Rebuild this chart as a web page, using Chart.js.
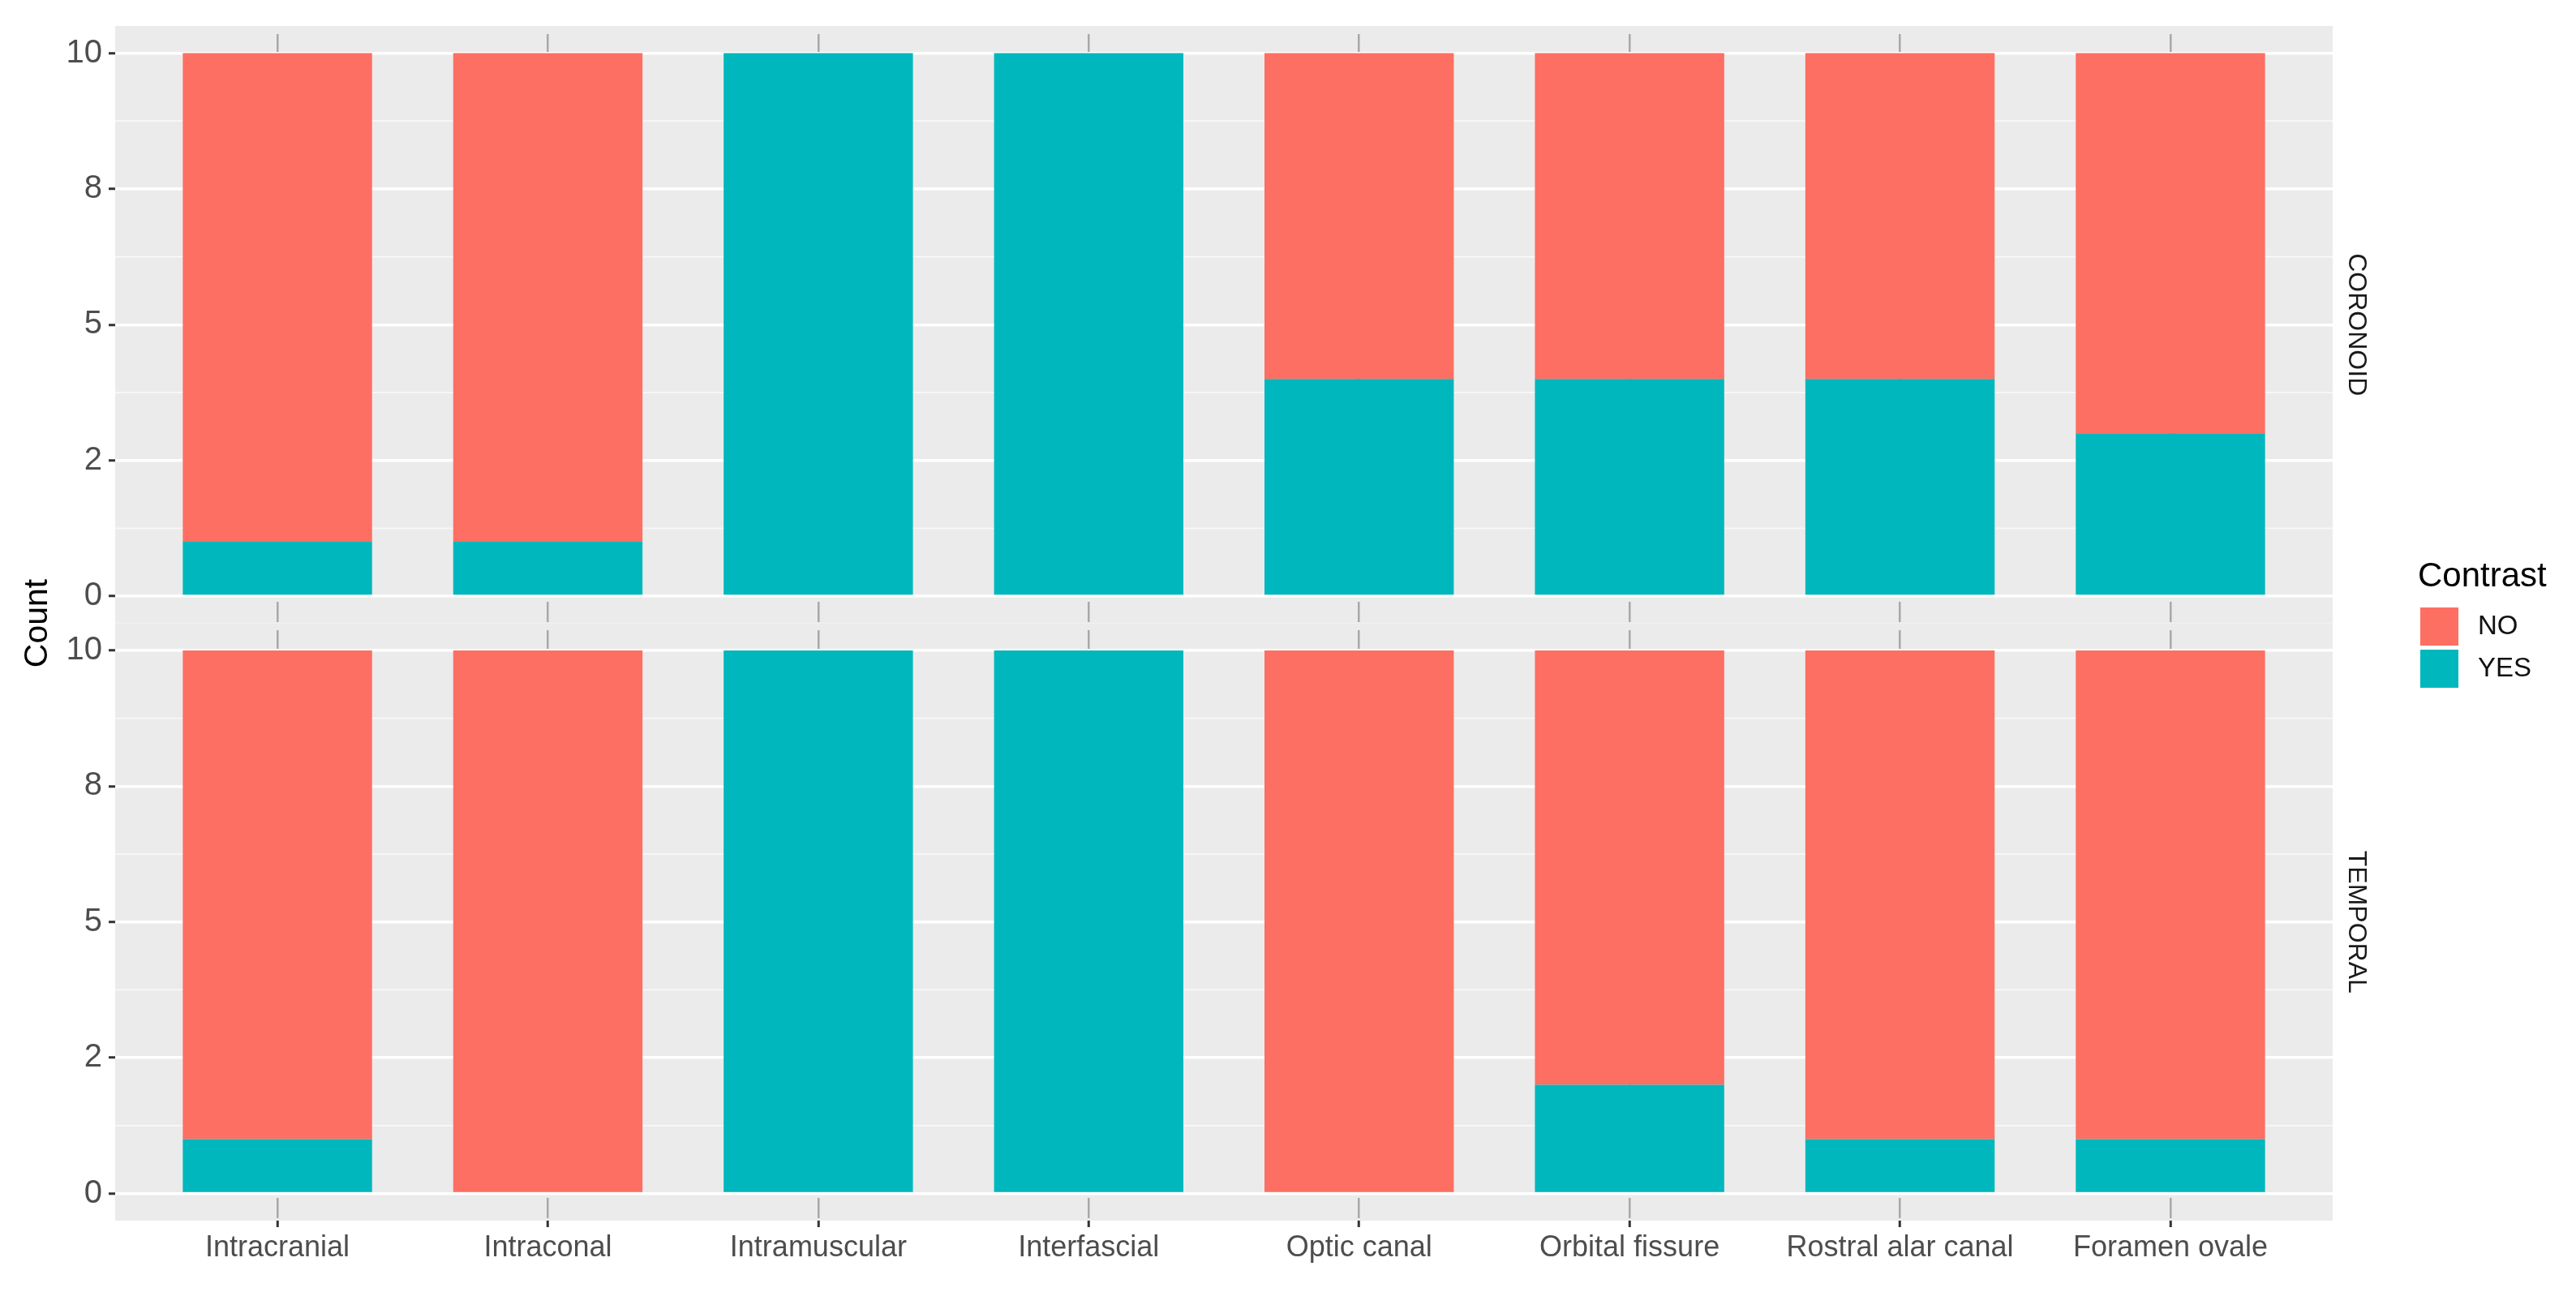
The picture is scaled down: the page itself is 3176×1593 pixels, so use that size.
<!DOCTYPE html>
<html>
<head>
<meta charset="utf-8">
<script src="https://cdn.jsdelivr.net/npm/chart.js@4.4.1/dist/chart.umd.min.js"></script>
<style>
  html, body { margin: 0; padding: 0; background: #fff; }
  #wrap { width: 3176px; height: 1593px; }
</style>
</head>
<body>
<div id="wrap"><canvas id="contrastChart" width="3176" height="1593"></canvas></div>
<script>
const categories = ['Intracranial', 'Intraconal', 'Intramuscular', 'Interfascial', 'Optic canal', 'Orbital fissure', 'Rostral alar canal', 'Foramen ovale'];
const coronoidYes = [1, 1, 10, 10, 4, 4, 4, 3];
const coronoidNo = [9, 9, 0, 0, 6, 6, 6, 7];
const temporalYes = [1, 0, 10, 10, 0, 2, 1, 1];
const temporalNo = [9, 10, 0, 0, 10, 8, 9, 9];
const yTickValues = [0, 2.5, 5, 7.5, 10];
const yTickLabels = ['0', '2', '5', '8', '10'];
const yMinorValues = [1.25, 3.75, 6.25, 8.75];
const panelNames = ['CORONOID', 'TEMPORAL'];
const legendTitle = 'Contrast';
const legendLabels = ['NO', 'YES'];

const NO_COLOR = '#FD6F62';
const YES_COLOR = '#00B7BD';
const FONT = '"Liberation Sans", Arial, sans-serif';

function series(label, values, color, axis) {
  return {
    label: label,
    data: values.map((v, i) => ({ x: i, y: v })),
    backgroundColor: color,
    borderWidth: 0,
    yAxisID: axis,
    categoryPercentage: 0.7,
    barPercentage: 1
  };
}

// y axis for one facet panel
function panelAxis() {
  return {
    type: 'linear',
    position: 'left',
    stack: 'panels',
    stackWeight: 1,
    stacked: true,
    min: -0.5,
    max: 10.5,
    afterBuildTicks: ax => { ax.ticks = yTickValues.map(v => ({ value: v })); },
    afterFit: ax => { ax.width = 142; },
    ticks: {
      callback: v => yTickLabels[yTickValues.indexOf(v)],
      color: '#4D4D4D',
      font: { family: FONT, size: 40 },
      padding: 8
    },
    grid: { color: '#FFFFFF', lineWidth: 3.5, tickColor: '#333333', tickLength: 8, tickWidth: 3 },
    border: { display: false }
  };
}

const panelPlugin = {
  id: 'panels',
  beforeDraw(chart) {
    const { ctx, chartArea } = chart;
    ctx.save();
    ctx.fillStyle = '#EBEBEB';
    ['yTop', 'yBot'].forEach(id => {
      const s = chart.scales[id];
      ctx.fillRect(chartArea.left, s.top, chartArea.right - chartArea.left, s.bottom - s.top);
    });
    // minor grid lines
    ctx.strokeStyle = '#F8F8F8';
    ctx.lineWidth = 1.8;
    ['yTop', 'yBot'].forEach(id => {
      const s = chart.scales[id];
      yMinorValues.forEach(v => {
        const y = s.getPixelForValue(v);
        ctx.beginPath();
        ctx.moveTo(chartArea.left, y);
        ctx.lineTo(chartArea.right, y);
        ctx.stroke();
      });
    });
    ctx.restore();
  },
  afterDraw(chart) {
    const { ctx, chartArea } = chart;
    ctx.save();
    // strip labels
    ctx.fillStyle = '#1A1A1A';
    ctx.font = '32px ' + FONT;
    ctx.textAlign = 'center';
    ctx.textBaseline = 'middle';
    ['yTop', 'yBot'].forEach((id, k) => {
      const s = chart.scales[id];
      ctx.save();
      ctx.translate(chartArea.right + 29, (s.top + s.bottom) / 2);
      ctx.rotate(Math.PI / 2);
      ctx.fillText(panelNames[k], 0, 0);
      ctx.restore();
    });
    // y title
    ctx.save();
    ctx.fillStyle = '#000000';
    ctx.font = '41px ' + FONT;
    ctx.translate(47, (chartArea.top + chartArea.bottom) / 2);
    ctx.rotate(-Math.PI / 2);
    ctx.fillText('Count', 0, 0);
    ctx.restore();
    // legend
    ctx.textAlign = 'left';
    ctx.textBaseline = 'alphabetic';
    ctx.fillStyle = '#000000';
    ctx.font = '42px ' + FONT;
    ctx.fillText(legendTitle, 2981, 723);
    const colors = [NO_COLOR, YES_COLOR];
    legendLabels.forEach((lab, k) => {
      const top = 749 + k * 52;
      ctx.fillStyle = colors[k];
      ctx.fillRect(2984, top, 47, 47);
      ctx.fillStyle = '#111111';
      ctx.font = '33px ' + FONT;
      ctx.textBaseline = 'middle';
      ctx.fillText(lab, 3055, top + 24);
    });
    ctx.restore();
  }
};

const ctx = document.getElementById('contrastChart').getContext('2d');
new Chart(ctx, {
  type: 'bar',
  data: {
    datasets: [
      series('YES', coronoidYes, YES_COLOR, 'yTop'),
      series('NO', coronoidNo, NO_COLOR, 'yTop'),
      series('YES', temporalYes, YES_COLOR, 'yBot'),
      series('NO', temporalNo, NO_COLOR, 'yBot')
    ]
  },
  options: {
    responsive: false,
    devicePixelRatio: 1,
    animation: false,
    layout: { padding: { top: 32, right: 300, left: 0, bottom: 0 } },
    plugins: { legend: { display: false }, tooltip: { enabled: false } },
    scales: {
      x: {
        type: 'linear',
        min: -0.6,
        max: 7.6,
        offset: false,
        stacked: true,
        afterBuildTicks: ax => { ax.ticks = categories.map((c, i) => ({ value: i })); },
        afterFit: ax => { ax.height = 88; },
        ticks: {
          callback: v => categories[v],
          autoSkip: false,
          maxRotation: 0,
          minRotation: 0,
          color: '#4D4D4D',
          font: { family: FONT, size: 36 },
          padding: 4
        },
        grid: { offset: false, color: '#A8A8A8', lineWidth: 2.5, tickColor: '#333333', tickLength: 8, tickWidth: 3 },
        border: { display: false, dash: [25, 10], dashOffset: 25 }
      },
      yBot: panelAxis(),
      yTop: panelAxis()
    }
  },
  plugins: [panelPlugin]
});
</script>
</body>
</html>
